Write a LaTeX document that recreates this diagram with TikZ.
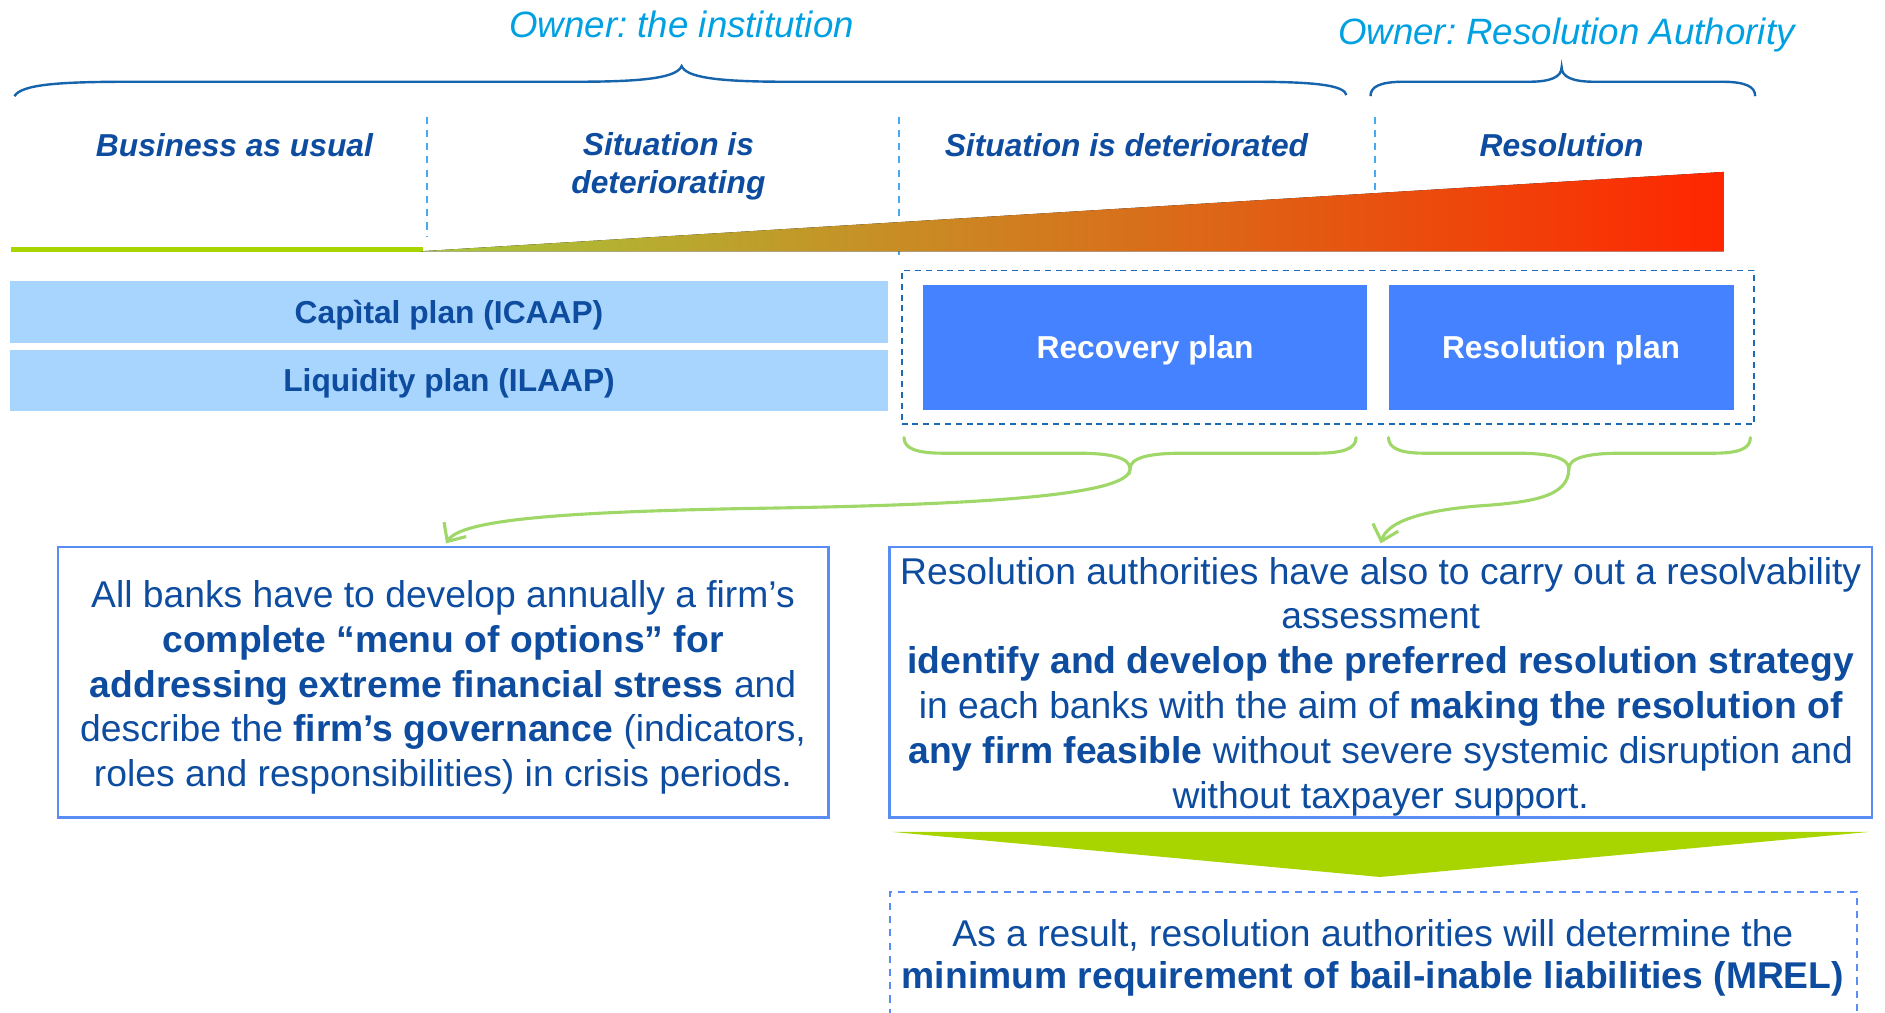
\documentclass[tikz,border=0pt]{standalone}
\usepackage{fontspec}
\setmainfont{Liberation Sans}
\usetikzlibrary{arrows.meta,calc}
\frenchspacing
\definecolor{txtblue}{RGB}{14,76,160}
\definecolor{ownerblue}{RGB}{0,160,225}
\definecolor{bracecol}{RGB}{22,100,172}
\definecolor{dashlight}{RGB}{70,170,240}
\definecolor{lightbox}{RGB}{168,213,253}
\definecolor{planblue}{RGB}{68,130,255}
\definecolor{boxborder}{RGB}{90,140,245}
\definecolor{greenbar}{RGB}{168,212,0}
\definecolor{greenbr}{RGB}{160,215,105}
\definecolor{dashdark}{RGB}{30,105,180}
\definecolor{wedgeL}{RGB}{168,200,58}
\definecolor{wedgeM}{RGB}{210,125,34}
\definecolor{wedgeR}{RGB}{255,38,0}
\newcommand\fsLabel{\fontsize{26.4}{31.5}\selectfont}
\newcommand\fsOwner{\fontsize{30.5}{36}\selectfont}
\newcommand\fsBody{\fontsize{31}{37.4}\selectfont}
\newcommand\fsMrel{\fontsize{31}{35}\selectfont}
\begin{document}
\begin{tikzpicture}[x=1pt,y=-1pt,
  phase/.style={font=\fsLabel\bfseries\itshape, text=txtblue, inner sep=0pt},
  owner/.style={font=\fsOwner\itshape, text=ownerblue, inner sep=0pt, anchor=base},
  plainbox/.style={fill=lightbox, inner sep=0pt, font=\fsLabel\bfseries, text=txtblue, text height=19pt, text depth=0pt},
  planbox/.style={fill=planblue, inner sep=0pt, font=\fsLabel\bfseries, text=white, text height=19pt, text depth=0pt},
  infobox/.style={draw=boxborder, line width=2pt, inner sep=0pt, align=center, font=\fsBody, text=txtblue},
  bluebrace/.style={draw=bracecol, line width=2pt},
  greenbrace/.style={draw=greenbr, line width=2.6pt, line cap=round},
  greenarrow/.style={draw=greenbr, line width=2.6pt, -{Straight Barb[length=12pt,width=22pt]}},
  phasesep/.style={draw=dashlight, line width=1.4pt, dash pattern=on 6pt off 5pt},
]
\useasboundingbox (0,0) rectangle (1568,842);

% owners and braces
\node[owner] (own1) at (567,31.5) {Owner: the institution};
\node[owner] (own2) at (1303,37) {Owner: Resolution Authority};
\draw[bluebrace] (12,80) .. controls (18,70) and (50,68) .. (110,68) -- (480,68)
  .. controls (540,68) and (563,64) .. (567,55)
  .. controls (571,64) and (594,68) .. (654,68) -- (1040,68)
  .. controls (1095,68) and (1118,71) .. (1120,79);
\draw[bluebrace] (1140,80) .. controls (1140,72) and (1148,68) .. (1168,68) -- (1272,68)
  .. controls (1290,68) and (1299,64) .. (1299,56)
  .. controls (1299,64) and (1308,68) .. (1326,68) -- (1432,68)
  .. controls (1452,68) and (1460,72) .. (1460,80);

% phase separators
\draw[phasesep] (355,97) -- (355,197);
\draw[phasesep] (748,97) -- (748,212);
\draw[phasesep] (1144,97) -- (1144,208);

% phase labels
\node[phase, anchor=base] (ph1) at (195,130) {Business as usual};
\node[phase, align=center] (ph2) at (556,138.5) {Situation is\\deteriorating};
\node[phase, anchor=base] (ph3) at (937,130) {Situation is deteriorated};
\node[phase, anchor=base] (ph4) at (1299,130) {Resolution};

% timeline
\fill[greenbar] (9,205.5) rectangle (352,209.5);
\fill[left color=wedgeL, middle color=wedgeM, right color=wedgeR] (350,209) -- (1434,143) -- (1434,209) -- cycle;

% plans
\node[plainbox, minimum width=731pt, minimum height=51pt] (cap) at (373.5,259.5) {Capìtal plan (ICAAP)};
\node[plainbox, minimum width=731pt, minimum height=51pt] (liq) at (373.5,316.5) {Liquidity plan (ILAAP)};
\node[draw=dashdark, line width=1.6pt, dash pattern=on 5pt off 4pt, minimum width=709pt, minimum height=128pt, inner sep=0pt] (grp) at (1104.5,289) {};
\node[planbox, minimum width=369pt, minimum height=104pt] (rec) at (952.5,289) {Recovery plan};
\node[planbox, minimum width=287pt, minimum height=104pt] (res) at (1298.5,289) {Resolution plan};

% green braces
\coordinate (tipL) at (940,390);
\coordinate (tipR) at (1305,390);
\draw[greenbrace] (752,364) .. controls (752,373) and (762,377) .. (785,377) -- (897,377)
  .. controls (925,377) and (940,381) .. (tipL)
  .. controls (940,381) and (955,377) .. (983,377) -- (1095,377)
  .. controls (1118,377) and (1128,373) .. (1128,364);
\draw[greenbrace] (1155,364) .. controls (1155,373) and (1165,377) .. (1185,377) -- (1262,377)
  .. controls (1290,377) and (1305,381) .. (tipR)
  .. controls (1305,381) and (1320,377) .. (1348,377) -- (1425,377)
  .. controls (1447,377) and (1456,373) .. (1456,364);

% text boxes
\node[infobox, minimum width=641pt, minimum height=225pt] (lbox) at (368.5,567.5)
  {\rule{0pt}{31pt}All banks have to develop annually a firm’s\\
   \textbf{complete “menu of options” for}\\
   \textbf{addressing extreme financial stress} and\\
   describe the \textbf{firm’s governance} (indicators,\\
   roles and responsibilities) in crisis periods.};
\node[infobox, minimum width=817pt, minimum height=225pt] (rbox) at (1148.5,567.5)
  {\rule{0pt}{30pt}Resolution authorities have also to carry out a resolvability\\
   assessment\\
   \textbf{identify and develop the preferred resolution strategy}\\
   in each banks with the aim of \textbf{making the resolution of}\\
   \textbf{any firm feasible} without severe systemic disruption and\\
   without taxpayer support.};

% arrows
\draw[greenarrow] (tipL) .. controls (940,412) and (820,420) .. (620,423)
  .. controls (470,426) and (384,432) .. ($(lbox.north)+(2.5,-2)$);
\draw[greenarrow] (tipR) .. controls (1305,414) and (1272,418) .. (1228,421)
  .. controls (1182,425) and (1154,434) .. ($(rbox.north)+(0,-2)$);

% result
\fill[greenbar] (742,692) -- (1555,692) -- (1148,729.5) -- cycle;
\node[draw=boxborder, line width=1.5pt, dash pattern=on 6pt off 5pt, minimum width=805pt, minimum height=130pt, inner sep=0pt] (mbox) at (1142.5,807) {};
\node[inner sep=0pt, align=center, font=\fsMrel, text=txtblue] (mrel) at (1142,797)
  {As a result, resolution authorities will determine the\\
   \textbf{minimum requirement of bail-inable liabilities (MREL)}};
\end{tikzpicture}
\end{document}
